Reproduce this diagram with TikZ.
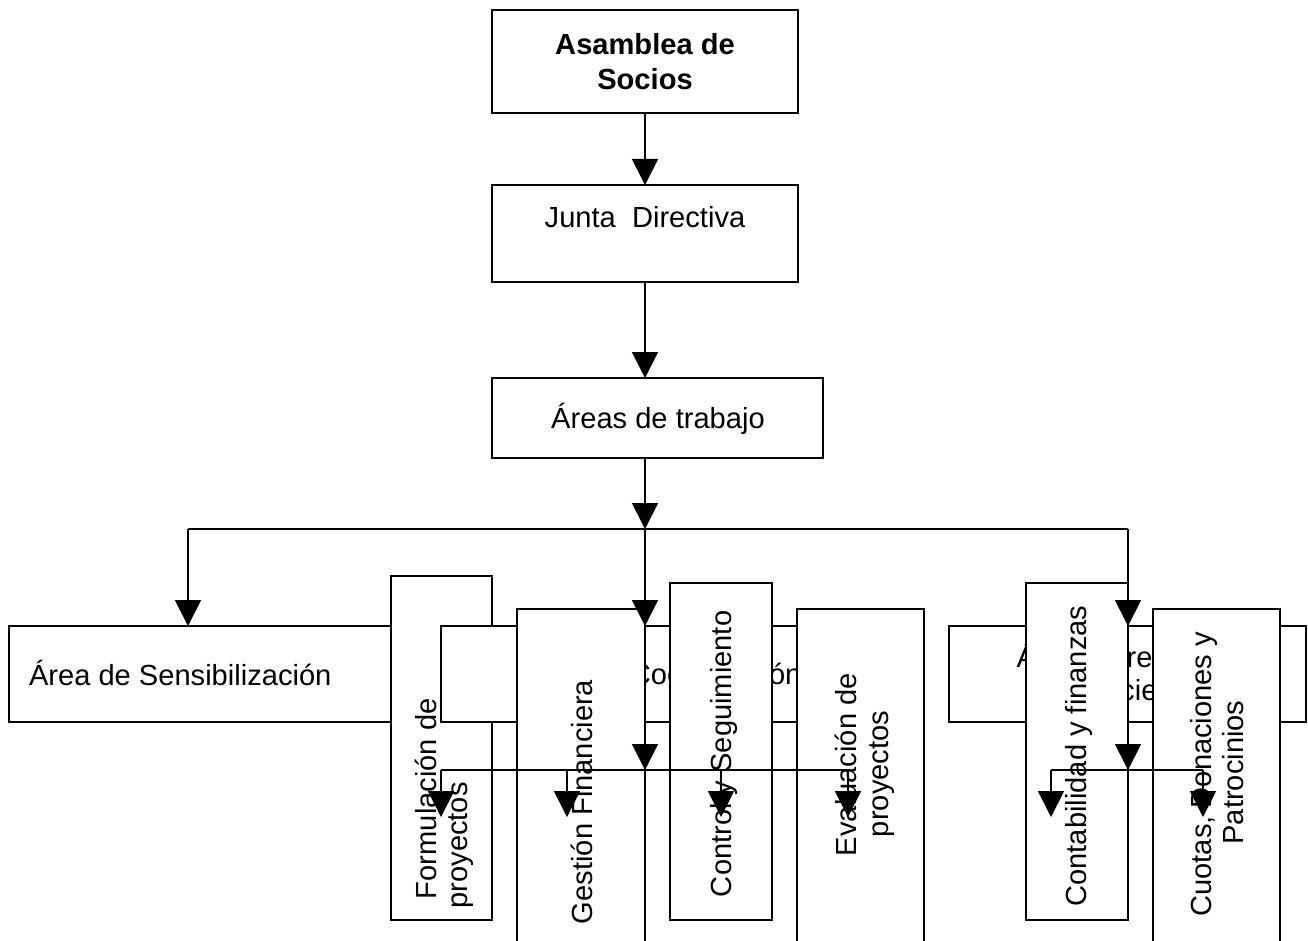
\documentclass[tikz,border=0pt]{standalone}
\usepackage{fontspec}
\setmainfont{Liberation Sans}
\usetikzlibrary{arrows.meta}
\begin{document}
\begin{tikzpicture}[x=1pt,y=-1pt,
  box/.style={draw=black, fill=white, line width=1.8pt, inner sep=0pt, outer sep=0pt},
  lbl/.style={inner sep=0pt, outer sep=0pt, font=\fontsize{29.1}{33.6}\selectfont},
  conn/.style={line width=1.8pt, draw=black},
  arr/.style={conn, -{Triangle[length=26pt,width=26pt]}},
]
\useasboundingbox (0,0) rectangle (1308,941);
\clip (0,0) rectangle (1308,941);
\fill[white] (0,0) rectangle (1308,941);

% top chain
\node[box, minimum width=306pt, minimum height=103pt] (asam) at (645,61.5) {};
\node[lbl, anchor=base] (tasam1) at (645,55) {\bfseries Asamblea de};
\node[lbl, anchor=base] (tasam2) at (645,90) {\bfseries Socios};

\node[box, minimum width=306pt, minimum height=97pt] (junta) at (645,233.5) {};
\node[lbl, anchor=base] (tjunta) at (645,228) {Junta~~Directiva};

\node[box, minimum width=331pt, minimum height=80pt] (areas) at (657.5,418) {};
\node[lbl, anchor=base] (tareas) at (658,428) {Áreas de trabajo};

% left group
\node[box, minimum width=451pt, minimum height=96pt] (sens) at (234.5,674) {};
\node[lbl, anchor=base west] (tsens) at (29,685) {Área de Sensibilización};

\node[box, minimum width=101pt, minimum height=344pt] (form) at (441.5,748) {};
\node[lbl, rotate=90, anchor=base west] (tform1) at (436,899) {Formulación de};
\node[lbl, rotate=90, anchor=base west] (tform2) at (467,908.5) {proyectos};

\node[box, minimum width=438pt, minimum height=96pt] (coord) at (660,674) {};
\node[lbl, anchor=base west] (tcoord) at (520,684.5) {Área de Coordinación};

\node[box, minimum width=128pt, minimum height=391pt] (gest) at (581,804.5) {};
\node[lbl, rotate=90, anchor=base west] (tgest) at (592,924) {Gestión Financiera};

\node[box, minimum width=102pt, minimum height=337pt] (ctrl) at (721,751.5) {};
\node[lbl, rotate=90, anchor=base west] (tctrl) at (731,897) {Control y Seguimiento};

\node[box, minimum width=127pt, minimum height=391pt] (eval) at (860.5,804.5) {};
\node[lbl, rotate=90, anchor=base west] (teval1) at (856,856) {Evaluación de};
\node[lbl, rotate=90, anchor=base west] (teval2) at (888,837) {proyectos};

% right group
\node[box, minimum width=357pt, minimum height=96pt] (recur) at (1127.5,674) {};
\node[lbl, anchor=base] (trecur1) at (1127.5,667) {Área de recursos};
\node[lbl, anchor=base] (trecur2) at (1127.5,700) {financieros};

\node[box, minimum width=102pt, minimum height=337pt] (conta) at (1077,751.5) {};
\node[lbl, rotate=90, anchor=base west] (tconta) at (1086,906.5) {Contabilidad y finanzas};

\node[box, minimum width=127pt, minimum height=391pt] (cuotas) at (1216.5,804.5) {};
\node[lbl, rotate=90, anchor=base west] (tcuo1) at (1211,916.5) {Cuotas, Donaciones y};
\node[lbl, rotate=90, anchor=base west] (tcuo2) at (1243.5,844.5) {Patrocinios};

% connector points
\coordinate (br) at (645,529);
\coordinate (brL) at (188,529);
\coordinate (brR) at (1128,529);
\coordinate (cB) at (645,770);
\coordinate (rB) at (1128,770);
\coordinate (lL) at (441,770);
\coordinate (lR) at (848,770);
\coordinate (m2) at (567,770);
\coordinate (m3) at (721,770);
\coordinate (s1) at (441,817);
\coordinate (s2) at (567,817);
\coordinate (s3) at (721,817);
\coordinate (s4) at (848,817);
\coordinate (rL) at (1051,770);
\coordinate (rR) at (1203,770);
\coordinate (s5) at (1051,817);
\coordinate (s6) at (1203,817);

% connectors
\draw[arr] (asam.south) -- (junta.north);
\draw[arr] (junta.south) -- (junta.south |- areas.north);
\draw[arr] (junta.south |- areas.south) -- (br);
\draw[conn] (brL) -- (brR);
\draw[arr] (brL) -- (brL |- sens.north);
\draw[arr] (br) -- (br |- coord.north);
\draw[arr] (br |- coord.north) -- (cB);
\draw[arr] (brR) -- (brR |- recur.north);
\draw[arr] (brR |- recur.north) -- (rB);
\draw[conn] (lL) -- (lR);
\draw[arr] (lL) -- (s1);
\draw[arr] (m2) -- (s2);
\draw[arr] (m3) -- (s3);
\draw[arr] (lR) -- (s4);
\draw[conn] (rL) -- (rR);
\draw[arr] (rL) -- (s5);
\draw[arr] (rR) -- (s6);
\end{tikzpicture}
\end{document}
